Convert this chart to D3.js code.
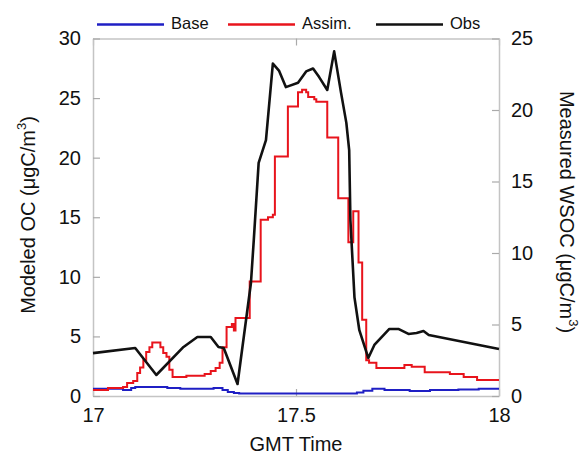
<!DOCTYPE html>
<html>
<head>
<meta charset="utf-8">
<script src="https://cdn.jsdelivr.net/npm/d3@7"></script>
<style>
  body { margin: 0; background: #fff; }
  svg { font-family: "Liberation Sans", Arial, sans-serif; }
</style>
</head>
<body>
<svg id="chart" width="582" height="456"></svg>
<script>
// GMT time (hours) and values
var baseTime = [17.0, 17.074, 17.094, 17.104, 17.134, 17.183, 17.215, 17.297, 17.319, 17.332, 17.347, 17.36, 17.47, 17.58, 17.65, 17.666, 17.688, 17.718, 17.78, 17.83, 17.9, 17.95, 18.0];
var baseOc   = [0.6, 0.5, 0.67, 0.76, 0.76, 0.67, 0.6, 0.67, 0.5, 0.34, 0.25, 0.22, 0.2, 0.22, 0.3, 0.45, 0.6, 0.5, 0.42, 0.5, 0.55, 0.6, 0.6];

var assimTime = [17.0, 17.037, 17.074, 17.084, 17.099, 17.109, 17.116, 17.124, 17.131, 17.139, 17.146, 17.166, 17.173, 17.181, 17.188, 17.196, 17.23, 17.275, 17.29, 17.302, 17.312, 17.319, 17.329, 17.342, 17.347, 17.351, 17.381, 17.386, 17.413, 17.431, 17.443, 17.448, 17.48, 17.505, 17.515, 17.525, 17.53, 17.545, 17.55, 17.577, 17.604, 17.629, 17.641, 17.654, 17.663, 17.673, 17.68, 17.698, 17.723, 17.767, 17.785, 17.817, 17.879, 17.913, 17.946, 18.0];
var assimOc   = [0.5, 0.67, 0.76, 1.1, 1.26, 1.93, 2.4, 3.0, 3.7, 4.1, 4.5, 4.1, 3.6, 3.3, 2.2, 1.6, 1.7, 1.85, 2.1, 2.35, 2.8, 4.1, 5.8, 6.05, 5.5, 6.55, 6.55, 9.6, 14.8, 15.0, 15.2, 20.1, 24.3, 25.5, 25.7, 25.5, 25.1, 24.9, 24.7, 21.7, 16.6, 12.9, 15.5, 11.2, 6.4, 3.0, 2.8, 2.35, 2.35, 2.6, 2.45, 2.0, 1.85, 1.6, 1.35, 1.35];

var obsTime = [17.0, 17.104, 17.156, 17.223, 17.257, 17.29, 17.309, 17.322, 17.356, 17.389, 17.396, 17.408, 17.426, 17.443, 17.458, 17.475, 17.505, 17.525, 17.542, 17.557, 17.577, 17.594, 17.611, 17.624, 17.631, 17.634, 17.644, 17.656, 17.678, 17.693, 17.73, 17.752, 17.777, 17.797, 17.814, 17.827, 18.0];
var obsWsoc = [3.0, 3.36, 1.47, 3.43, 4.13, 4.13, 3.43, 3.36, 0.84, 7.9, 10.9, 16.3, 17.9, 23.25, 22.76, 21.6, 21.9, 22.7, 22.9, 22.3, 21.4, 24.1, 21.2, 19.1, 17.2, 12.3, 6.9, 4.6, 2.66, 3.57, 4.69, 4.69, 4.34, 4.41, 4.55, 4.27, 3.29];

var xTicks = [17, 17.5, 18];
var leftTicks = [0, 5, 10, 15, 20, 25, 30];
var rightTicks = [0, 5, 10, 15, 20, 25];

var svg = d3.select("#chart");
var plotL = 93, plotR = 499, plotT = 38.5, plotB = 396;

var x = d3.scaleLinear().domain([17, 18]).range([plotL, plotR]);
var yL = d3.scaleLinear().domain([0, 30]).range([plotB, plotT]);
var yR = d3.scaleLinear().domain([0, 25]).range([plotB, plotT]);

function styleAxis(g) {
  g.select(".domain").attr("stroke", "#c4c4c4").attr("stroke-width", 1.5);
  g.selectAll(".tick line").attr("stroke", "#aaa").attr("stroke-width", 1.2);
  g.selectAll("text").attr("font-size", 20).attr("fill", "#111").attr("font-family", "Liberation Sans, Arial, sans-serif");
}

svg.append("g").attr("transform", "translate(0," + plotB + ")")
  .call(d3.axisBottom(x).tickValues(xTicks).tickFormat(d3.format("")).tickSizeInner(-7).tickSizeOuter(0).tickPadding(12))
  .call(styleAxis);
svg.append("g").attr("transform", "translate(0," + plotT + ")")
  .call(d3.axisTop(x).tickValues(xTicks).tickFormat("").tickSizeInner(-7).tickSizeOuter(0))
  .call(styleAxis);
svg.append("g").attr("transform", "translate(" + plotL + ",0)")
  .call(d3.axisLeft(yL).tickValues(leftTicks).tickSizeInner(-7).tickSizeOuter(0).tickPadding(12))
  .call(styleAxis);
svg.append("g").attr("transform", "translate(" + plotR + ",0)")
  .call(d3.axisRight(yR).tickValues(rightTicks).tickSizeInner(-7).tickSizeOuter(0).tickPadding(12))
  .call(styleAxis);

// series
var stepLine = d3.line().curve(d3.curveStepAfter)
  .x(function(d) { return x(d[0]); })
  .y(function(d) { return yL(d[1]); });
var obsLine = d3.line()
  .x(function(d) { return x(d[0]); })
  .y(function(d) { return yR(d[1]); });

svg.append("path")
  .datum(baseTime.map(function(t, i) { return [t, baseOc[i]]; }))
  .attr("fill", "none").attr("stroke", "#1f1fc4").attr("stroke-width", 2)
  .attr("d", stepLine);
svg.append("path")
  .datum(assimTime.map(function(t, i) { return [t, assimOc[i]]; }))
  .attr("fill", "none").attr("stroke", "#e8141c").attr("stroke-width", 2)
  .attr("d", stepLine);
svg.append("path")
  .datum(obsTime.map(function(t, i) { return [t, obsWsoc[i]]; }))
  .attr("fill", "none").attr("stroke", "#111").attr("stroke-width", 2.6)
  .attr("stroke-linejoin", "round")
  .attr("d", obsLine);

// legend
var legendItems = [
  {name: "Base", color: "#1f1fc4", x: 97},
  {name: "Assim.", color: "#e8141c", x: 228},
  {name: "Obs", color: "#111", x: 376}
];
var legend = svg.append("g").selectAll("g")
  .data(legendItems)
  .enter().append("g")
    .attr("transform", function(d) { return "translate(" + d.x + ",24.5)"; });
legend.append("line")
  .attr("x1", 0).attr("x2", 67)
  .attr("stroke", function(d) { return d.color; })
  .attr("stroke-width", 2.5);
legend.append("text")
  .attr("x", 74).attr("y", 0).attr("dy", "0.3em")
  .attr("font-size", 16.5).attr("fill", "#111")
  .text(function(d) { return d.name; });

// axis titles
svg.append("text")
  .attr("x", 296).attr("y", 451)
  .attr("text-anchor", "middle").attr("font-size", 20).attr("fill", "#111")
  .text("GMT Time");

var lt = svg.append("text")
  .attr("transform", "translate(35,215)rotate(-90)")
  .attr("text-anchor", "middle").attr("font-size", 20).attr("fill", "#111");
lt.append("tspan").text("Modeled OC (\u03bcgC/m");
lt.append("tspan").attr("font-size", 13).attr("dy", -9).text("3");
lt.append("tspan").attr("dy", 9).text(")");

var rt = svg.append("text")
  .attr("transform", "translate(560,212)rotate(90)")
  .attr("text-anchor", "middle").attr("font-size", 20).attr("fill", "#111");
rt.append("tspan").text("Measured WSOC (\u03bcgC/m");
rt.append("tspan").attr("font-size", 13).attr("dy", -9).text("3");
rt.append("tspan").attr("dy", 9).text(")");
</script>
</body>
</html>
